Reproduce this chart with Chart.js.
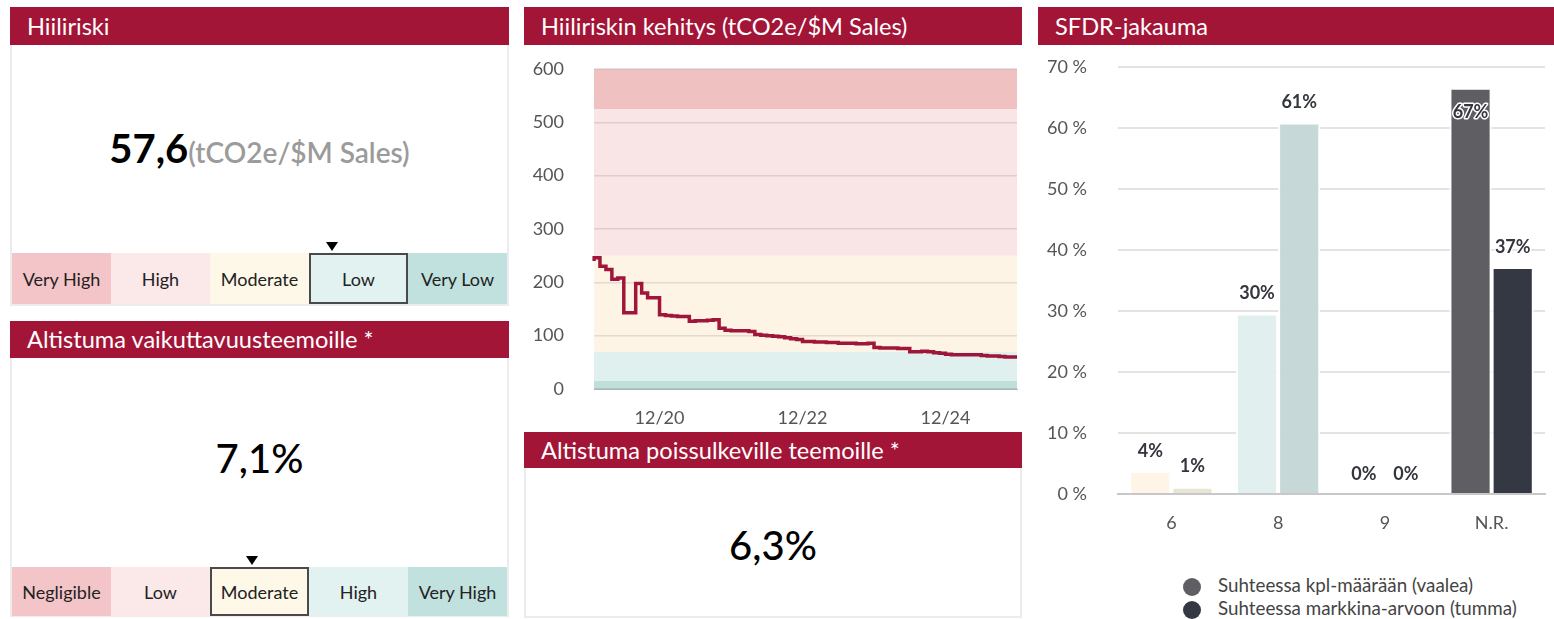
<!DOCTYPE html>
<html lang="fi">
<head>
<meta charset="utf-8">
<script src="https://cdn.jsdelivr.net/npm/chart.js@4.4.1/dist/chart.umd.min.js"></script>
<style>
  body { margin: 0; background: #fff; font-family: Lato, sans-serif; width: 1554px; height: 619px; overflow: hidden; position: relative; }
  .hdr { position: absolute; background: #a31537; color: #fff; font-size: 23.6px; line-height: 38px; padding-left: 17px; box-sizing: border-box; white-space: nowrap; }
  .box { position: absolute; border: 2px solid #ececec; border-top: none; box-sizing: border-box; }
  .big { position: absolute; text-align: center; color: #000; white-space: nowrap; }
  .scale { position: absolute; display: flex; height: 51px; }
  .scale div { width: 99px; box-sizing: border-box; font-size: 18px; color: #222; display: flex; align-items: center; justify-content: center; }
  .scale div.sel { border: 2px solid #4a4a4a; }
  .tri { position: absolute; width: 0; height: 0; border-left: 6px solid transparent; border-right: 6px solid transparent; border-top: 9px solid #000; }
  .leg { position: absolute; left: 1183px; font-size: 18.8px; color: #444; white-space: nowrap; }
  .leg span { display: inline-block; width: 18px; height: 18px; border-radius: 50%; vertical-align: middle; margin-right: 17px; }
</style>
</head>
<body>

<div class="hdr" style="left:10px;top:7px;width:499px;height:38px">Hiiliriski</div>
<div class="box" style="left:10px;top:45px;width:499px;height:261px"></div>
<div class="big" style="left:10px;top:124px;width:499px">
  <span style="font-size:40px;font-weight:700">57,6</span><span style="font-size:28px;font-weight:600;color:#9b9b9b">(tCO2e/$M Sales)</span>
</div>
<div class="tri" style="left:326px;top:242px"></div>
<div class="scale" id="scale1" style="left:12px;top:253px"></div>

<div class="hdr" style="left:10px;top:321px;width:499px;height:37px;line-height:37px">Altistuma vaikuttavuusteemoille *</div>
<div class="box" style="left:10px;top:358px;width:499px;height:259px"></div>
<div class="big" style="left:10px;top:434px;width:499px;font-size:40px;font-weight:500">7,1%</div>
<div class="tri" style="left:246px;top:556px"></div>
<div class="scale" id="scale2" style="left:12px;top:567px;height:49px"></div>

<div class="hdr" style="left:524px;top:7px;width:498px;height:38px">Hiiliriskin kehitys (tCO2e/$M Sales)</div>
<div style="position:absolute;left:524px;top:45px;width:498px;height:387px"><canvas id="lineChart"></canvas></div>

<div class="hdr" style="left:524px;top:432px;width:498px;height:36px;line-height:36px">Altistuma poissulkeville teemoille *</div>
<div class="box" style="left:524px;top:468px;width:498px;height:150px"></div>
<div class="big" style="left:524px;top:521px;width:498px;font-size:40px;font-weight:500">6,3%</div>

<div class="hdr" style="left:1038px;top:7px;width:516px;height:38px">SFDR-jakauma</div>
<div style="position:absolute;left:1038px;top:45px;width:516px;height:500px"><canvas id="barChart"></canvas></div>
<div class="leg" style="top:573px"><span style="background:#5f5e63"></span>Suhteessa kpl-määrään (vaalea)</div>
<div class="leg" style="top:596px"><span style="background:#343843"></span>Suhteessa markkina-arvoon (tumma)</div>

<script>
// risk scales
const carbonLevels = ['Very High', 'High', 'Moderate', 'Low', 'Very Low'];
const impactLevels = ['Negligible', 'Low', 'Moderate', 'High', 'Very High'];
const levelColors = ['#f4c5c8', '#fbe9ea', '#fef8e8', '#e2f2f0', '#c0e1dd'];
const carbonSelected = 3;
const impactSelected = 2;

// carbon intensity history, monthly from 01/20
const startYear = 2020;
const intensity = [
  240, 246, 230, 224, 206, 208, 143, 143, 198, 180, 171, 171,
  139, 138, 137, 136, 136, 127, 128, 128, 129, 130, 114, 110,
  109, 109, 109, 108, 102, 101, 100, 99, 98, 96, 94, 93,
  89, 89, 88, 88, 87, 87, 86, 86, 86, 85, 85, 86,
  78, 77, 77, 77, 76, 76, 70, 70, 71, 70, 68, 67,
  65, 64, 64, 64, 64, 64, 63, 62, 62, 61, 60, 60
];
const shownTicks = ['12/20', '12/22', '12/24'];
const bandLimits = [0, 15, 70, 250, 525, 600];
const bandColors = ['#bedfda', '#e0f0ef', '#fdf4e6', '#f9e5e6', '#efc1c1'];

// SFDR distribution
const sfdrCategories = ['6', '8', '9', 'N.R.'];
const byCount = [3.8, 29.6, 0, 66.6];
const byMarketValue = [1.2, 60.9, 0, 37.2];
const countColors = ['#fef5e6', '#e1f0ef', '#fef5e6', '#5f5e63'];
const valueColors = ['#e9e5d6', '#c6d9d8', '#e9e5d6', '#343843'];

function buildScale(id, names, sel) {
  const el = document.getElementById(id);
  names.forEach((n, i) => {
    const d = document.createElement('div');
    d.textContent = n;
    d.style.background = levelColors[i];
    if (i === sel) d.className = 'sel';
    el.appendChild(d);
  });
}
buildScale('scale1', carbonLevels, carbonSelected);
buildScale('scale2', impactLevels, impactSelected);

Chart.defaults.font.family = 'Lato, sans-serif';
Chart.defaults.animation = false;

const months = [];
for (let i = 0; i < intensity.length; i++) {
  const m = i % 12 + 1;
  const y = (startYear + Math.floor(i / 12)) % 100;
  months.push(String(m).padStart(2, '0') + '/' + y);
}

// no automatic label padding, plot edges come from layout.padding
const noPad = s => { s.paddingLeft = 0; s.paddingRight = 0; s.paddingTop = 0; s.paddingBottom = 0; };

const bands = {
  id: 'bands',
  beforeDraw(chart) {
    const { ctx, chartArea: a, scales: { y } } = chart;
    ctx.save();
    for (let i = 0; i < bandColors.length; i++) {
      const top = y.getPixelForValue(bandLimits[i + 1]);
      const bottom = y.getPixelForValue(bandLimits[i]);
      ctx.fillStyle = bandColors[i];
      ctx.fillRect(a.left, top, a.right - a.left, bottom - top);
    }
    ctx.restore();
  }
};

new Chart(document.getElementById('lineChart'), {
  type: 'line',
  data: {
    labels: months,
    datasets: [{
      data: intensity,
      borderColor: '#a0153a',
      borderWidth: 3.5,
      pointRadius: 0,
      stepped: 'after',
      fill: false
    }]
  },
  options: {
    responsive: true,
    maintainAspectRatio: false,
    layout: { padding: { top: 24, right: 5 } },
    plugins: { legend: { display: false }, tooltip: { enabled: false } },
    scales: {
      x: {
        grid: { display: false },
        border: { color: '#b5b5b5' },
        afterFit: s => { noPad(s); s.height = 43; },
        ticks: {
          autoSkip: false, maxRotation: 0, padding: 10,
          color: '#555', font: { size: 18 },
          callback(v) { const l = this.getLabelForValue(v); return shownTicks.includes(l) ? l : ''; }
        }
      },
      y: {
        min: 0, max: 600,
        grid: { color: 'rgba(0,0,0,0.1)', lineWidth: 1.5, drawTicks: false },
        border: { display: false },
        afterFit: s => { noPad(s); s.width = 70; },
        ticks: { stepSize: 100, padding: 30, color: '#555', font: { size: 18 } }
      }
    }
  },
  plugins: [bands]
});

const barLabels = {
  id: 'barLabels',
  afterDatasetsDraw(chart) {
    const { ctx, chartArea } = chart;
    ctx.save();
    ctx.font = 'bold 18px Lato, sans-serif';
    ctx.textAlign = 'center';
    ctx.textBaseline = 'middle';
    ctx.lineJoin = 'round';
    chart.data.datasets.forEach((ds, di) => {
      chart.getDatasetMeta(di).data.forEach((bar, i) => {
        const txt = Math.round(ds.data[i]) + '%';
        let y = bar.y - 20;
        if (y - 9 < chartArea.top) y = bar.y + 24;
        ctx.strokeStyle = '#fff';
        ctx.lineWidth = 3;
        ctx.strokeText(txt, bar.x, y);
        ctx.fillStyle = '#33363d';
        ctx.fillText(txt, bar.x, y);
      });
    });
    ctx.restore();
  }
};

new Chart(document.getElementById('barChart'), {
  type: 'bar',
  data: {
    labels: sfdrCategories,
    datasets: [
      { label: 'Suhteessa kpl-määrään (vaalea)', data: byCount, backgroundColor: countColors },
      { label: 'Suhteessa markkina-arvoon (tumma)', data: byMarketValue, backgroundColor: valueColors }
    ]
  },
  options: {
    responsive: true,
    maintainAspectRatio: false,
    layout: { padding: { top: 22, right: 9 } },
    datasets: { bar: { categoryPercentage: 0.79, barPercentage: 1, borderWidth: 2, borderColor: '#fff' } },
    plugins: { legend: { display: false }, tooltip: { enabled: false } },
    scales: {
      x: {
        grid: { display: false },
        border: { color: '#c8c8c8', width: 2 },
        afterFit: s => { noPad(s); s.height = 51; },
        ticks: { padding: 10, color: '#555', font: { size: 18 } }
      },
      y: {
        min: 0, max: 70,
        grid: { color: '#e3e3e3', lineWidth: 2, drawTicks: false },
        border: { display: false },
        afterFit: s => { noPad(s); s.width = 80; },
        ticks: { stepSize: 10, padding: 31, color: '#555', font: { size: 18 }, callback: v => v + ' %' }
      }
    }
  },
  plugins: [barLabels]
});
</script>
</body>
</html>
